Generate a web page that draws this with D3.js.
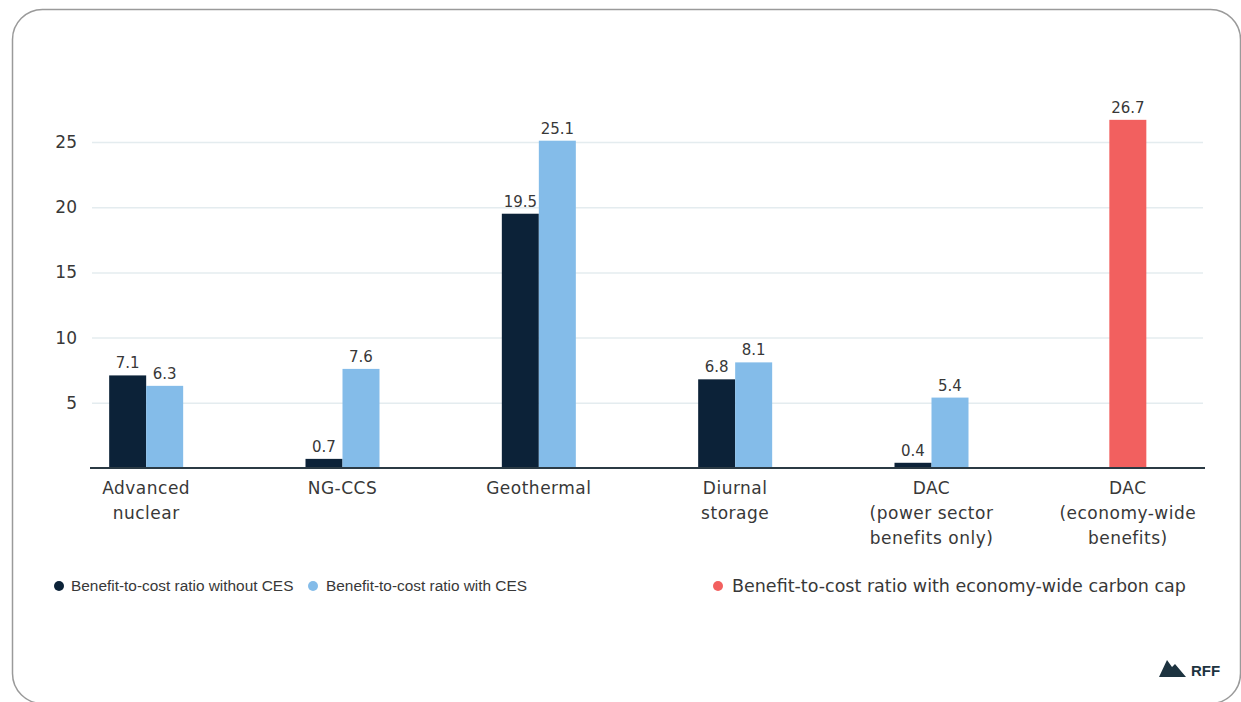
<!DOCTYPE html>
<html>
<head>
<meta charset="utf-8">
<script src="https://cdn.jsdelivr.net/npm/d3@7"></script>
<style>
  html, body { margin: 0; padding: 0; background: #ffffff; }
  svg { display: block; }
</style>
</head>
<body>
<svg id="chart" width="1241" height="702"></svg>
<script>
// ---- data ----
const categories = ["Advanced nuclear", "NG-CCS", "Geothermal", "Diurnal storage", "DAC power", "DAC economy"];
const categoryLines = [
  ["Advanced", "nuclear"],
  ["NG-CCS"],
  ["Geothermal"],
  ["Diurnal", "storage"],
  ["DAC", "(power sector", "benefits only)"],
  ["DAC", "(economy-wide", "benefits)"]
];
const withoutCES = [7.1, 0.7, 19.5, 6.8, 0.4, null];
const withCES = [6.3, 7.6, 25.1, 8.1, 5.4, null];
const economyCap = [null, null, null, null, null, 26.7];
const yTicks = [5, 10, 15, 20, 25];
const seriesNames = [
  "Benefit-to-cost ratio without CES",
  "Benefit-to-cost ratio with CES",
  "Benefit-to-cost ratio with economy-wide carbon cap"
];
const seriesColors = ["#0c2238", "#84bce9", "#f2605f"];

// ---- layout ----
const svg = d3.select("#chart");
const baseY = 468, topY = 142;
const x = d3.scaleBand().domain(categories).range([48, 1226]).paddingInner(0).paddingOuter(0);
const y = d3.scaleLinear().domain([0, 25]).range([baseY, topY]);
const barW = 37;
const labelFont = "'DejaVu Sans', sans-serif";
const textCol = "#383838";

// card
svg.append("rect")
  .attr("x", 12.5).attr("y", 9.5)
  .attr("width", 1228).attr("height", 694)
  .attr("rx", 30).attr("ry", 30)
  .attr("fill", "#ffffff")
  .attr("stroke", "#9a9a9a").attr("stroke-width", 1.5);

// gridlines + y tick labels
const yAxis = d3.axisLeft(y).tickValues(yTicks).tickSize(-(1203 - 92)).tickPadding(15);
const gAxis = svg.append("g").attr("transform", "translate(92,0)").call(yAxis);
gAxis.select(".domain").remove();
gAxis.selectAll(".tick line").attr("stroke", "#e4ecef").attr("stroke-width", 1.5);
gAxis.selectAll(".tick text")
  .attr("x", -15)
  .attr("fill", textCol)
  .style("font-family", labelFont)
  .style("font-size", "17px");

// bars
function barX(i, s) {
  const c = x(categories[i]) + x.bandwidth() / 2;
  if (s === 0) return c - barW;
  if (s === 1) return c;
  return c - barW / 2;
}
const series = [withoutCES, withCES, economyCap];
series.forEach((vals, s) => {
  const data = vals.map((v, i) => ({ v, i })).filter(d => d.v !== null);
  svg.append("g").selectAll("rect").data(data).enter().append("rect")
    .attr("x", d => barX(d.i, s))
    .attr("y", d => y(d.v))
    .attr("width", barW)
    .attr("height", d => baseY - y(d.v))
    .attr("fill", seriesColors[s]);
  svg.append("g").selectAll("text").data(data).enter().append("text")
    .attr("x", d => barX(d.i, s) + barW / 2)
    .attr("y", d => y(d.v) - 7)
    .attr("text-anchor", "middle")
    .attr("fill", textCol)
    .style("font-family", labelFont)
    .style("font-size", "15px")
    .text(d => d.v.toFixed(1));
});

// baseline axis
const xAxis = d3.axisBottom(x).tickSize(0).tickFormat("");
const gx = svg.append("g").attr("transform", `translate(0,${baseY})`).call(xAxis);
gx.select(".domain").remove();
svg.append("line")
  .attr("x1", 90).attr("x2", 1205)
  .attr("y1", baseY).attr("y2", baseY)
  .attr("stroke", "#2b3a44").attr("stroke-width", 2);

// category labels
categories.forEach((c, i) => {
  const cx = x(c) + x.bandwidth() / 2;
  const t = svg.append("text")
    .attr("x", cx)
    .attr("y", 494)
    .attr("text-anchor", "middle")
    .attr("fill", textCol)
    .style("font-family", labelFont)
    .style("font-size", "17px")
    .style("letter-spacing", "0.5px");
  categoryLines[i].forEach((line, k) => {
    t.append("tspan")
      .attr("x", cx)
      .attr("dy", k === 0 ? 0 : 25)
      .text(line);
  });
});

// legend
const legendPos = [[59, 71], [313, 326], [718, 732]];
const legendFonts = [
  ["'Liberation Sans', Arial, sans-serif", "15.4px"],
  ["'Liberation Sans', Arial, sans-serif", "15.4px"],
  ["'DejaVu Sans', sans-serif", "17.5px"]
];
const legY = 586;
seriesNames.forEach((name, s) => {
  svg.append("circle")
    .attr("cx", legendPos[s][0]).attr("cy", legY).attr("r", 5)
    .attr("fill", seriesColors[s]);
  svg.append("text")
    .attr("x", legendPos[s][1]).attr("y", legY)
    .attr("dy", "0.35em")
    .attr("fill", textCol)
    .style("font-family", legendFonts[s][0])
    .style("font-size", legendFonts[s][1])
    .text(name);
});

// RFF logo
svg.append("path")
  .attr("d", "M1159,677 L1167,660 L1172,667 L1175,664 L1186,677 Z")
  .attr("fill", "#1d3340");
svg.append("text")
  .attr("x", 1191).attr("y", 676)
  .attr("fill", "#1d3340")
  .style("font-family", "'Liberation Sans', Arial, sans-serif")
  .style("font-weight", "bold")
  .style("font-size", "15px")
  .text("RFF");
</script>
</body>
</html>
